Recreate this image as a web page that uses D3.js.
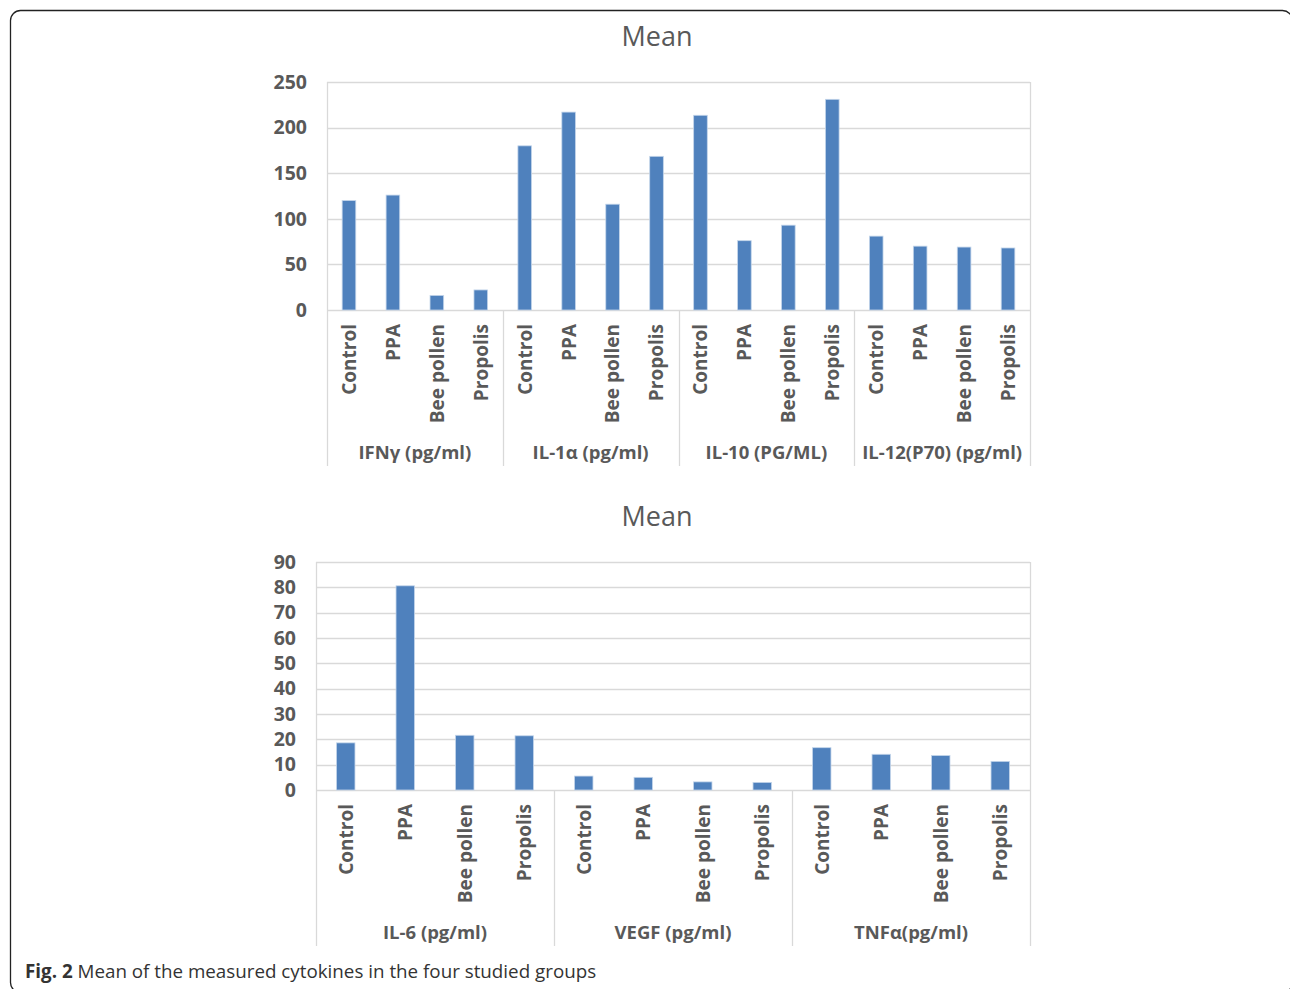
<!DOCTYPE html>
<html>
<head>
<meta charset="utf-8">
<script src="https://cdn.jsdelivr.net/npm/d3@7"></script>
<style>
  html, body { margin: 0; padding: 0; background: #fff; }
  svg { display: block; }
</style>
</head>
<body>
<svg id="fig" width="1290" height="989"></svg>
<script>
// Treatment groups shown under every cytokine
const treatments = ["Control", "PPA", "Bee pollen", "Propolis"];

// Upper panel: cytokines and mean values (pg/ml)
const cytokinesTop = ["IFNγ (pg/ml)", "IL-1α (pg/ml)", "IL-10 (PG/ML)", "IL-12(P70) (pg/ml)"];
const ifngValues  = [120, 126, 16, 22];
const il1aValues  = [180, 217, 116, 168.5];
const il10Values  = [213.5, 76, 93, 231];
const il12Values  = [81, 70, 69, 68];
const ticksTop = [0, 50, 100, 150, 200, 250];

// Lower panel
const cytokinesBottom = ["IL-6 (pg/ml)", "VEGF (pg/ml)", "TNFα(pg/ml)"];
const il6Values  = [18.6, 80.6, 21.6, 21.4];
const vegfValues = [5.5, 5.0, 3.2, 3.0];
const tnfaValues = [16.7, 14.1, 13.6, 11.3];
const ticksBottom = [0, 10, 20, 30, 40, 50, 60, 70, 80, 90];

const titleText = "Mean";
const BAR = "#4F81BD", GRID = "#d9d9d9", TXT = "#595959";
const FONT = "'Open Sans', sans-serif";

const svg = d3.select("#fig");

// Outer rounded frame of the figure
svg.append("rect")
  .attr("x", 10.5).attr("y", 10.5)
  .attr("width", 1282).attr("height", 982)
  .attr("rx", 10)
  .attr("fill", "none").attr("stroke", "#222").attr("stroke-width", 1.3);

function drawPanel(opt) {
  const { groups, series, ticks, left, right, top, bottom, sepBottom, groupLabelY, titleY } = opt;
  const rows = [];
  groups.forEach((gName, gi) => {
    treatments.forEach((t, ti) => rows.push({ key: gi + "|" + t, group: gName, treat: t, value: series[gi][ti] }));
  });

  const x = d3.scaleBand().domain(rows.map(r => r.key)).range([left, right])
    .paddingInner(0.69).paddingOuter(0.345);
  const step = x.step();
  const y = d3.scaleLinear().domain([0, d3.max(ticks)]).range([bottom, top]);

  const g = svg.append("g");

  // Title
  g.append("text")
    .attr("x", 657).attr("y", titleY)
    .attr("text-anchor", "middle")
    .attr("font-family", FONT)
    .attr("font-size", 27).attr("fill", TXT)
    .text(titleText);

  // Horizontal gridlines
  g.selectAll("line.grid").data(ticks).join("line")
    .attr("class", "grid")
    .attr("x1", left).attr("x2", right)
    .attr("y1", d => Math.round(y(d)) + 0.5).attr("y2", d => Math.round(y(d)) + 0.5)
    .attr("stroke", GRID).attr("stroke-width", 1.3);

  // Plot area sides
  [left, right].forEach(xx => {
    g.append("line")
      .attr("x1", xx + 0.5).attr("x2", xx + 0.5)
      .attr("y1", y(d3.max(ticks))).attr("y2", bottom)
      .attr("stroke", GRID).attr("stroke-width", 1.3);
  });

  // Y axis labels
  const yAxis = d3.axisLeft(y).tickValues(ticks).tickSize(0).tickPadding(20);
  const ya = g.append("g").attr("transform", `translate(${left},0)`).call(yAxis);
  ya.select(".domain").remove();
  ya.selectAll("text")
    .attr("font-family", FONT)
    .attr("font-weight", "bold")
    .attr("font-size", 19.5).attr("fill", TXT);

  // Bars
  g.selectAll("rect.bar").data(rows).join("rect")
    .attr("class", "bar")
    .attr("x", d => x(d.key))
    .attr("width", x.bandwidth())
    .attr("y", d => y(d.value))
    .attr("height", d => y(0) - y(d.value))
    .attr("fill", BAR)
    .attr("stroke", "#c3d5ea").attr("stroke-width", 0.8);

  // Group separators below the axis
  d3.range(groups.length + 1).forEach(i => {
    const xx = left + i * step * treatments.length;
    g.append("line")
      .attr("x1", Math.round(xx) + 0.5).attr("x2", Math.round(xx) + 0.5)
      .attr("y1", bottom).attr("y2", sepBottom)
      .attr("stroke", GRID).attr("stroke-width", 1.3);
  });

  // Rotated treatment labels
  g.selectAll("text.cat").data(rows).join("text")
    .attr("class", "cat")
    .attr("transform", d => `translate(${x(d.key) + x.bandwidth() / 2},${bottom + 14}) rotate(-90)`)
    .attr("dy", "0.36em")
    .attr("text-anchor", "end")
    .attr("font-family", FONT)
    .attr("font-weight", "bold")
    .attr("font-size", 19).attr("fill", TXT)
    .text(d => d.treat);

  // Cytokine group labels
  g.selectAll("text.grp").data(groups).join("text")
    .attr("class", "grp")
    .attr("x", (d, i) => left + (i + 0.5) * step * treatments.length)
    .attr("y", groupLabelY)
    .attr("text-anchor", "middle")
    .attr("font-family", FONT)
    .attr("font-weight", "bold")
    .attr("font-size", 18.5).attr("fill", TXT)
    .text(d => d);
}

drawPanel({
  groups: cytokinesTop,
  series: [ifngValues, il1aValues, il10Values, il12Values],
  ticks: ticksTop,
  left: 327, right: 1030, top: 82, bottom: 310,
  sepBottom: 466, groupLabelY: 459, titleY: 46
});

drawPanel({
  groups: cytokinesBottom,
  series: [il6Values, vegfValues, tnfaValues],
  ticks: ticksBottom,
  left: 316, right: 1030, top: 562, bottom: 790,
  sepBottom: 946, groupLabelY: 939, titleY: 526
});

// Caption
const cap = svg.append("text")
  .attr("x", 25).attr("y", 978)
  .attr("font-family", FONT)
  .attr("font-size", 18.8).attr("fill", "#333");
cap.append("tspan").attr("font-weight", "bold").text("Fig. 2");
cap.append("tspan").text(" Mean of the measured cytokines in the four studied groups");
</script>
</body>
</html>
